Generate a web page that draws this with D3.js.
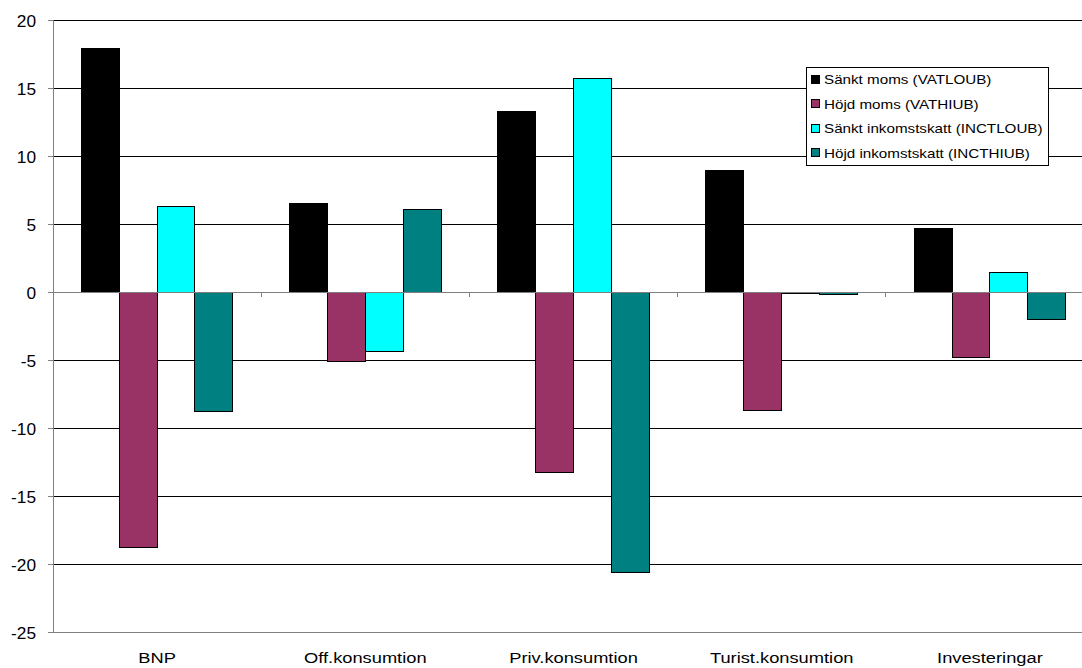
<!DOCTYPE html>
<html>
<head>
<meta charset="utf-8">
<script src="https://cdn.jsdelivr.net/npm/d3@7"></script>
<style>
  body { margin: 0; background: #fff; }
  svg { font-family: "Liberation Sans", Arial, sans-serif; }
</style>
</head>
<body>
<svg id="chart"></svg>
<script>
// categories and series
const categories = ['BNP', 'Off.konsumtion', 'Priv.konsumtion', 'Turist.konsumtion', 'Investeringar'];
const seriesNames = ['Sänkt moms (VATLOUB)', 'Höjd moms (VATHIUB)', 'Sänkt inkomstskatt (INCTLOUB)', 'Höjd inkomstskatt (INCTHIUB)'];
const vatLo = [17.9, 6.5, 13.3, 8.9, 4.7];
const vatHi = [-18.8, -5.1, -13.3, -8.7, -4.85];
const inctLo = [6.3, -4.4, 15.7, -0.05, 1.4];
const inctHi = [-8.75, 6.1, -20.6, -0.15, -2.05];
const yTicks = [20, 15, 10, 5, 0, -5, -10, -15, -20, -25];
const colors = ['#000000', '#993366', '#00ffff', '#008080'];

const width = 1082, height = 668;
const margin = { top: 20, left: 53, bottom: 36 };
const plotRight = 1094; // plot area runs past the window edge

const svg = d3.select('#chart').attr('width', width).attr('height', height);

const x = d3.scaleBand()
    .domain(categories)
    .range([margin.left, plotRight])
    .paddingInner(0).paddingOuter(0);

const y = d3.scaleLinear()
    .domain([-25, 20])
    .range([height - margin.bottom, margin.top]);

// inner scale for the four bars, gap width 150% like excel
const barW = x.bandwidth() / 5.5;
const xi = d3.scaleBand()
    .domain(d3.range(seriesNames.length))
    .range([barW * 0.75, barW * 4.75]);

// gridlines
svg.append('g')
    .selectAll('line')
    .data(yTicks.filter(d => d !== 0 && d !== -25))
    .join('line')
    .attr('x1', margin.left).attr('x2', width)
    .attr('y1', d => y(d)).attr('y2', d => y(d))
    .attr('stroke', '#000').attr('stroke-width', 1)
    .attr('shape-rendering', 'crispEdges');

svg.append('line')
    .attr('x1', margin.left).attr('x2', width)
    .attr('y1', y(-25)).attr('y2', y(-25))
    .attr('stroke', '#808080').attr('shape-rendering', 'crispEdges');

// bars
const table = categories.map((c, i) => ({
    cat: c,
    vals: [vatLo[i], vatHi[i], inctLo[i], inctHi[i]]
}));

svg.append('g')
    .selectAll('g')
    .data(table)
    .join('g')
    .attr('transform', d => `translate(${x(d.cat)},0)`)
    .selectAll('rect')
    .data(d => d.vals.map((v, k) => ({ v, k })))
    .join('rect')
    .attr('x', d => xi(d.k))
    .attr('width', xi.bandwidth())
    .attr('y', d => y(Math.max(0, d.v)))
    .attr('height', d => Math.max(1, Math.abs(y(d.v) - y(0))))
    .attr('fill', d => colors[d.k])
    .attr('stroke', '#000')
    .attr('stroke-width', 1)
    .attr('shape-rendering', 'crispEdges');

// y axis, plain hyphen for negatives
const yAxis = d3.axisLeft(y).tickValues(yTicks).tickSize(5).tickFormat(d => String(d));
const gy = svg.append('g')
    .attr('transform', `translate(${margin.left},0)`)
    .call(yAxis);
gy.select('.domain').attr('stroke', '#808080');
gy.selectAll('.tick line').attr('stroke', '#808080');
gy.selectAll('.tick text')
    .attr('x', null).attr('dy', null)
    .attr('transform', 'translate(-17,6) scale(1.08,1)')
    .attr('font-size', 16)
    .attr('font-family', '"Liberation Sans", Arial, sans-serif')
    .attr('fill', '#000');

// zero line with category ticks
svg.append('line')
    .attr('x1', margin.left).attr('x2', width)
    .attr('y1', y(0)).attr('y2', y(0))
    .attr('stroke', '#808080').attr('shape-rendering', 'crispEdges');

svg.append('g')
    .selectAll('line')
    .data(categories.slice(1))
    .join('line')
    .attr('x1', d => x(d)).attr('x2', d => x(d))
    .attr('y1', y(0)).attr('y2', y(0) + 5)
    .attr('stroke', '#808080').attr('shape-rendering', 'crispEdges');

// category labels
svg.append('g')
    .selectAll('text')
    .data(categories)
    .join('text')
    .attr('transform', d => `translate(${x(d) + x.bandwidth() / 2},663) scale(1.18,1)`)
    .attr('text-anchor', 'middle')
    .attr('font-size', 15.5)
    .text(d => d);

// legend
const legend = svg.append('g').attr('transform', 'translate(806,67)');
legend.append('rect')
    .attr('width', 242).attr('height', 98)
    .attr('fill', '#fff').attr('stroke', '#000')
    .attr('shape-rendering', 'crispEdges');

const item = legend.selectAll('g.item')
    .data(seriesNames)
    .join('g')
    .attr('class', 'item')
    .attr('transform', (d, i) => `translate(5,${12 + i * 24.5})`);

item.append('rect')
    .attr('x', 0).attr('y', -4)
    .attr('width', 8).attr('height', 8)
    .attr('fill', (d, i) => colors[i])
    .attr('stroke', '#000')
    .attr('shape-rendering', 'crispEdges');

item.append('text')
    .attr('transform', 'translate(13,5) scale(1.17,1)')
    .attr('font-size', 13)
    .text(d => d);
</script>
</body>
</html>
